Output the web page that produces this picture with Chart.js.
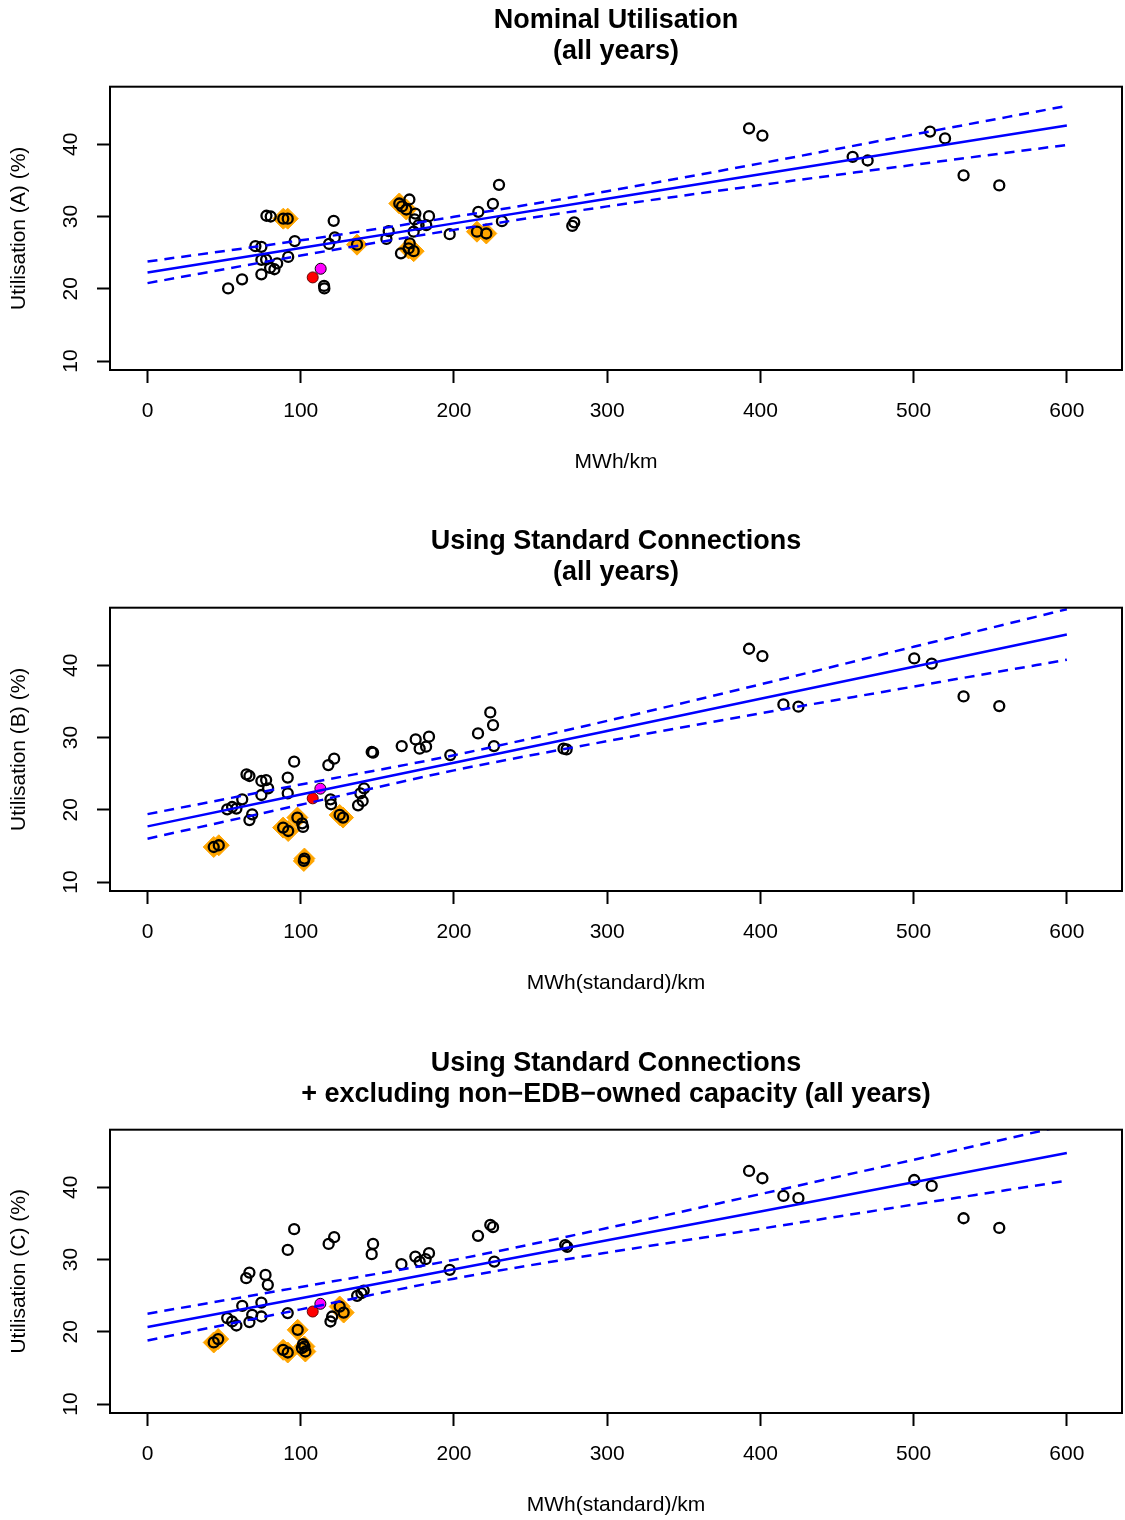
<!DOCTYPE html>
<html>
<head>
<meta charset="utf-8">
<script src="https://cdn.jsdelivr.net/npm/chart.js@4.4.0/dist/chart.umd.min.js"></script>
<style>
html, body { margin: 0; padding: 0; background: #fff; overflow: hidden; width: 1125px; height: 1520px; }
canvas { position: absolute; left: 0; }
</style>
</head>
<body>
<canvas id="chartA" width="1125" height="521" style="top:0px"></canvas>
<canvas id="chartB" width="1125" height="521" style="top:521px"></canvas>
<canvas id="chartC" width="1125" height="521" style="top:1043px"></canvas>
<script>
// tick labels
var xTicks = [0, 100, 200, 300, 400, 500, 600];
var yTicks = [10, 20, 30, 40];

// positions where the fitted line and the band were read
var fitX = [0, 100, 200, 300, 400, 500, 600];

// panel A - nominal utilisation
var xA = [52.6, 61.7, 74.3, 70.4, 74.3, 74.3, 77.4, 80.0, 82.8, 84.6, 91.8, 96.1, 77.6, 80.4, 88.6, 91.5, 121.5, 122.2, 118.5, 115.2, 115.4, 136.7, 157.4, 155.9, 164.3, 170.9, 168.9, 166.1, 174.8, 174.3, 183.7, 176.9, 181.9, 173.7, 171.1, 170.4, 173.7, 165.4, 197.2, 215.9, 225.4, 229.4, 231.3, 215.0, 221.1, 278.5, 277.2, 392.6, 401.3, 460.2, 470.0, 510.7, 520.5, 532.6, 555.9];
var yA = [20.05, 21.3, 22.0, 25.9, 25.8, 24.0, 24.05, 22.9, 22.7, 23.5, 24.4, 26.6, 30.1, 30.0, 29.7, 29.7, 29.4, 27.1, 26.2, 20.4, 20.05, 26.1, 27.97, 26.9, 31.8, 32.35, 30.97, 31.4, 30.4, 29.6, 30.05, 28.8, 28.8, 27.9, 26.27, 25.58, 25.2, 24.9, 27.55, 30.64, 31.75, 34.38, 29.35, 27.9, 27.65, 29.2, 28.7, 42.2, 41.2, 38.25, 37.75, 41.75, 40.8, 35.7, 34.3];
var oxA = [88.6, 91.5, 136.7, 164.3, 168.9, 170.4, 173.7, 215.0, 221.1];
var oyA = [29.7, 29.7, 26.1, 31.8, 30.97, 25.58, 25.2, 27.9, 27.65];
var redA = [107.8, 21.57];
var magA = [113.0, 22.77];
var fitA = [22.25, 25.65, 29.05, 32.45, 35.85, 39.25, 42.6];
var upA = [23.77, 26.7, 29.95, 33.5, 37.35, 41.35, 45.3];
var loA = [20.78, 24.6, 28.15, 31.4, 34.35, 37.15, 39.9];

// panel B - standard connections
var xB = [43.2, 46.5, 52.0, 55.2, 58.0, 61.8, 64.6, 66.5, 74.3, 77.4, 78.7, 74.3, 68.3, 66.5, 95.7, 91.5, 91.5, 88.5, 91.8, 97.8, 100.9, 101.5, 102.4, 102.0, 118.0, 121.8, 119.4, 119.8, 125.4, 127.6, 146.3, 147.2, 137.4, 140.4, 138.9, 141.3, 165.9, 175.0, 177.6, 181.8, 183.7, 197.6, 215.7, 223.7, 225.5, 226.1, 271.5, 273.5, 392.6, 401.3, 415.0, 424.8, 500.4, 511.8, 532.6, 555.9];
var yB = [14.85, 15.09, 20.06, 20.38, 20.16, 21.45, 24.9, 24.67, 23.98, 24.11, 22.97, 22.04, 19.37, 18.58, 26.66, 24.45, 22.28, 17.53, 17.06, 18.92, 18.13, 17.62, 13.25, 12.92, 26.19, 27.07, 21.45, 20.76, 19.28, 18.92, 27.99, 27.9, 20.62, 21.21, 22.28, 22.97, 28.81, 29.74, 28.46, 28.73, 30.11, 27.57, 30.57, 33.47, 31.72, 28.81, 28.45, 28.35, 42.28, 41.26, 34.58, 34.26, 40.94, 40.21, 35.69, 34.35];
var oxB = [43.2, 46.5, 88.5, 91.8, 97.8, 102.4, 102.0, 125.4, 127.6];
var oyB = [14.85, 15.09, 17.53, 17.06, 18.92, 13.25, 12.92, 19.28, 18.92];
var redB = [107.8, 21.58];
var magB = [112.8, 22.92];
var fitB = [17.7, 22.1, 26.5, 30.9, 35.35, 39.8, 44.25];
var upB = [19.4, 23.5, 27.55, 32.3, 37.35, 42.55, 47.75];
var loB = [16.0, 20.7, 25.45, 29.5, 33.35, 37.05, 40.75];

// panel C - standard connections, excluding non-EDB-owned capacity
var xC = [43.2, 46.1, 52.0, 55.2, 58.0, 61.8, 64.4, 66.5, 77.0, 78.5, 74.3, 68.3, 66.5, 74.3, 95.7, 91.5, 91.5, 98.0, 88.5, 91.5, 101.5, 102.4, 103.0, 100.7, 118.2, 121.8, 119.4, 120.5, 125.4, 128.0, 136.8, 139.6, 141.1, 147.2, 146.3, 165.7, 174.8, 177.6, 181.5, 183.7, 197.2, 215.7, 223.7, 225.5, 226.3, 272.6, 273.9, 392.6, 401.3, 415.0, 424.8, 500.4, 511.8, 532.6, 555.9];
var yC = [18.52, 18.99, 21.89, 21.42, 20.87, 23.59, 27.42, 28.19, 27.87, 26.49, 24.04, 22.34, 21.34, 22.11, 34.19, 31.33, 22.58, 20.27, 17.5, 17.13, 18.29, 17.96, 17.27, 17.74, 32.16, 33.09, 21.42, 22.11, 23.49, 22.66, 24.97, 25.34, 25.7, 32.16, 30.74, 29.35, 30.41, 29.71, 30.05, 30.88, 28.57, 33.27, 34.79, 34.47, 29.71, 32.0, 31.75, 42.25, 41.24, 38.8, 38.48, 41.0, 40.18, 35.71, 34.37];
var oxC = [43.2, 46.1, 98.0, 88.5, 91.5, 102.4, 103.0, 125.4, 128.0];
var oyC = [18.52, 18.99, 20.27, 17.5, 17.13, 17.96, 17.27, 23.49, 22.66];
var redC = [107.8, 22.8];
var magC = [112.8, 23.87];
var fitC = [20.65, 24.65, 28.65, 32.65, 36.65, 40.7, 44.75];
var upC = [22.5, 26.2, 29.95, 34.35, 39.05, 43.8, 48.6];
var loC = [18.8, 23.1, 27.35, 30.95, 34.25, 37.6, 40.9];

var FONT = "'Liberation Sans', Arial, Helvetica, sans-serif";

// frame round the plot region
var boxPlugin = {
  id: 'box',
  afterDraw: function(chart) {
    var a = chart.chartArea;
    var c = chart.ctx;
    c.save();
    c.strokeStyle = '#000';
    c.lineWidth = 2;
    c.strokeRect(a.left, a.top, a.right - a.left, a.bottom - a.top);
    c.restore();
  }
};

function pairs(xs, ys) {
  return xs.map(function(v, i) { return {x: v, y: ys[i]}; });
}

function makeChart(id, title, xLabel, yLabel, xs, ys, ox, oy, red, mag, fit, up, lo) {
  var band = {
    type: 'line', borderColor: '#0000FF', borderWidth: 2.5, borderDash: [10, 7],
    pointRadius: 0, fill: false, cubicInterpolationMode: 'monotone', order: 1
  };
  return new Chart(document.getElementById(id), {
    type: 'scatter',
    data: {
      datasets: [
        { data: pairs(ox, oy), pointStyle: 'rectRot', pointRadius: 10.5, backgroundColor: '#FFA500', borderColor: '#FFA500', borderWidth: 1, order: 5 },
        { data: pairs(xs, ys), pointStyle: 'circle', pointRadius: 5, borderWidth: 2.3, borderColor: '#000', backgroundColor: 'rgba(0,0,0,0)', order: 4 },
        { data: [{x: red[0], y: red[1]}], pointRadius: 5.5, backgroundColor: '#FF0000', borderColor: '#600', borderWidth: 1, order: 3 },
        { data: [{x: mag[0], y: mag[1]}], pointRadius: 5.5, backgroundColor: '#FF00FF', borderColor: '#000', borderWidth: 1, order: 3 },
        { type: 'line', data: pairs(fitX, fit), borderColor: '#0000FF', borderWidth: 2.5, pointRadius: 0, fill: false, order: 1 },
        Object.assign({ data: pairs(fitX, up) }, band),
        Object.assign({ data: pairs(fitX, lo) }, band)
      ]
    },
    options: {
      responsive: false,
      animation: false,
      devicePixelRatio: 1,
      layout: { autoPadding: false, padding: { left: 0, right: 3, top: 0, bottom: 41 } },
      plugins: {
        legend: { display: false },
        tooltip: { enabled: false },
        title: {
          display: true, fullSize: false, text: title, color: '#000',
          font: { family: FONT, size: 27, weight: 'bold', lineHeight: 31 / 27 },
          padding: { top: 5.5, bottom: 19.2 }
        }
      },
      scales: {
        x: {
          type: 'linear', min: -24.5, max: 636,
          afterBuildTicks: function(s) { s.ticks = xTicks.map(function(v) { return {value: v}; }); },
          afterFit: function(s) { s.height = 110; s.paddingLeft = 0; s.paddingRight = 0; },
          grid: { drawOnChartArea: false, drawTicks: true, tickLength: 13, tickWidth: 2, tickColor: '#000' },
          border: { display: false },
          ticks: { color: '#000', font: { family: FONT, size: 21 }, padding: 16, maxRotation: 0, autoSkip: false },
          title: { display: true, text: xLabel, color: '#000', font: { family: FONT, size: 21 }, padding: { top: 0, bottom: 5.4 } }
        },
        y: {
          type: 'linear', min: 8.76, max: 47.96,
          afterBuildTicks: function(s) { s.ticks = yTicks.map(function(v) { return {value: v}; }); },
          afterFit: function(s) { s.width = 110; s.paddingTop = 0; s.paddingBottom = 0; },
          grid: { drawOnChartArea: false, drawTicks: true, tickLength: 13, tickWidth: 2, tickColor: '#000' },
          border: { display: false },
          ticks: { color: '#000', font: { family: FONT, size: 21 }, padding: 14, minRotation: 90, maxRotation: 90, crossAlign: 'center', autoSkip: false },
          title: { display: true, text: yLabel, color: '#000', font: { family: FONT, size: 21 }, padding: { top: 7, bottom: 0 } }
        }
      }
    },
    plugins: [boxPlugin]
  });
}

makeChart('chartA', ['Nominal Utilisation', '(all years)'], 'MWh/km', 'Utilisation (A) (%)',
  xA, yA, oxA, oyA, redA, magA, fitA, upA, loA);
makeChart('chartB', ['Using Standard Connections', '(all years)'], 'MWh(standard)/km', 'Utilisation (B) (%)',
  xB, yB, oxB, oyB, redB, magB, fitB, upB, loB);
makeChart('chartC', ['Using Standard Connections', '+ excluding non\u2212EDB\u2212owned capacity (all years)'], 'MWh(standard)/km', 'Utilisation (C) (%)',
  xC, yC, oxC, oyC, redC, magC, fitC, upC, loC);
</script>
</body>
</html>
